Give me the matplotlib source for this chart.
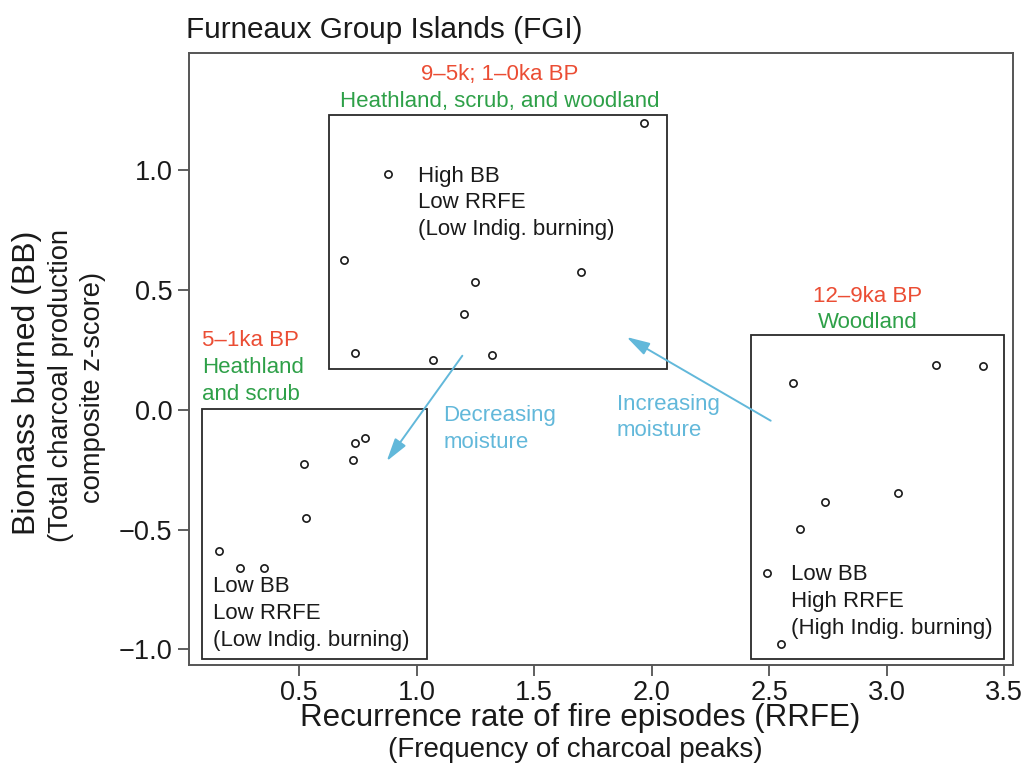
import matplotlib
matplotlib.use("Agg")
import matplotlib.pyplot as plt
from matplotlib.patches import Rectangle

plt.rcParams['font.family'] = ['Liberation Sans', 'DejaVu Sans']

# ---- data ----
# 5-1 ka BP (Heathland and scrub)
rrfe_5_1 = [0.16, 0.25, 0.35, 0.52, 0.53, 0.73, 0.74, 0.78]
bb_5_1 = [-0.59, -0.66, -0.66, -0.225, -0.45, -0.21, -0.14, -0.12]
# 9-5k; 1-0 ka BP (Heathland, scrub, and woodland)
rrfe_9_5 = [1.97, 0.88, 0.69, 1.25, 1.70, 1.20, 0.74, 1.07, 1.32]
bb_9_5 = [1.195, 0.985, 0.625, 0.533, 0.573, 0.40, 0.235, 0.207, 0.229]
# 12-9 ka BP (Woodland)
rrfe_12_9 = [2.60, 3.21, 3.41, 2.74, 3.05, 2.63, 2.49, 2.55]
bb_12_9 = [0.111, 0.185, 0.181, -0.385, -0.347, -0.496, -0.682, -0.979]

# group boxes: (x0, x1, y0, y1)
box_5_1 = (0.088, 1.043, -1.04, 0.003)
box_9_5 = (0.629, 2.065, 0.17, 1.228)
box_12_9 = (2.423, 3.501, -1.039, 0.311)

x_ticks = [0.5, 1.0, 1.5, 2.0, 2.5, 3.0, 3.5]
y_ticks = [-1.0, -0.5, 0.0, 0.5, 1.0]

RED = '#EB4D34'
GREEN = '#2EA048'
BLUE = '#62B8DA'
INK = '#1a1a1a'

W, H = 1022, 774
fig = plt.figure(figsize=(W / 100, H / 100), dpi=100)
ax = fig.add_axes([189 / W, 1 - 665 / H, (1013 - 189) / W, (665 - 52.7) / H])
ax.set_xlim(0.032, 3.538)
ax.set_ylim(-1.065, 1.489)

for x, y in [(rrfe_5_1, bb_5_1), (rrfe_9_5, bb_9_5), (rrfe_12_9, bb_12_9)]:
    ax.plot(x, y, linestyle='none', marker='o', markersize=5.2,
            markerfacecolor='none', markeredgecolor=INK, markeredgewidth=1.2)

for (x0, x1, y0, y1) in [box_5_1, box_9_5, box_12_9]:
    ax.add_patch(Rectangle((x0, y0), x1 - x0, y1 - y0, fill=False,
                           edgecolor='#2a2a2a', linewidth=1.3))

ax.set_xticks(x_ticks)
ax.set_xticklabels([f"{v:.1f}" for v in x_ticks])
ax.set_yticks(y_ticks)
ax.set_yticklabels([f"{v:.1f}".replace('-', '\u2212') for v in y_ticks])
ax.tick_params(direction='out', length=8, width=1.2, color='#444444',
               labelsize=19.5, labelcolor=INK)
ax.tick_params(axis='x', pad=2.5)
ax.tick_params(axis='y', pad=4)
for s in ax.spines.values():
    s.set_color('#555555')
    s.set_linewidth(1.4)

TXT = 16
STEP = 0.111  # line step in data units (y)

def lines(x, y0, items, ha='left'):
    for i, (t, c) in enumerate(items):
        ax.text(x, y0 - i * STEP, t, color=c, fontsize=TXT, ha=ha, va='baseline')

# group headers
lines(1.355, 1.375, [('9\u20135k; 1\u20130ka BP', RED), ('Heathland, scrub, and woodland', GREEN)], ha='center')
lines(0.088, (410 - 346.7) / 240,
      [('5\u20131ka BP', RED), ('Heathland', GREEN), ('and scrub', GREEN)])
lines(2.92, (410 - 302) / 240, [('12\u20139ka BP', RED), ('Woodland', GREEN)], ha='center')

# quadrant descriptions
lines(1.008, 0.951, [('High BB', INK), ('Low RRFE', INK), ('(Low Indig. burning)', INK)])
lines(0.135, (410 - 593) / 240, [('Low BB', INK), ('Low RRFE', INK), ('(Low Indig. burning)', INK)])
lines(2.592, (410 - 581) / 240, [('Low BB', INK), ('High RRFE', INK), ('(High Indig. burning)', INK)])

# moisture arrows
lines(1.113, (410 - 421.7) / 240, [('Decreasing', BLUE), ('moisture', BLUE)])
lines(1.852, 0.0, [('Increasing', BLUE), ('moisture', BLUE)])
arrow_kw = dict(arrowstyle='-|>,head_length=0.7,head_width=0.2', color=BLUE,
                lw=1.4, mutation_scale=20, shrinkA=0, shrinkB=0)
ax.annotate('', xy=(0.873, -0.215), xytext=(1.195, 0.225), arrowprops=arrow_kw)
ax.annotate('', xy=(1.894, 0.303), xytext=(2.507, -0.046), arrowprops=arrow_kw)

# titles / axis labels
fig.text(186 / W, 1 - 30 / H, 'Furneaux Group Islands (FGI)', fontsize=21.4,
         ha='left', va='center', color=INK)
fig.text(580 / W, 1 - 726 / H, 'Recurrence rate of fire episodes (RRFE)',
         fontsize=22.5, ha='center', va='baseline', color=INK)
fig.text(575 / W, 1 - 757 / H, '(Frequency of charcoal peaks)',
         fontsize=20, ha='center', va='baseline', color=INK)
fig.text(27 / W, 1 - 383 / H, 'Biomass burned (BB)', fontsize=23,
         rotation=90, ha='center', va='center', color=INK)
fig.text(61 / W, 1 - 385 / H, '(Total charcoal production', fontsize=19.7,
         rotation=90, ha='center', va='center', color=INK)
fig.text(93 / W, 1 - 387 / H, 'composite z-score)', fontsize=19.7,
         rotation=90, ha='center', va='center', color=INK)

fig.savefig('out.png', dpi=100, facecolor='white')
